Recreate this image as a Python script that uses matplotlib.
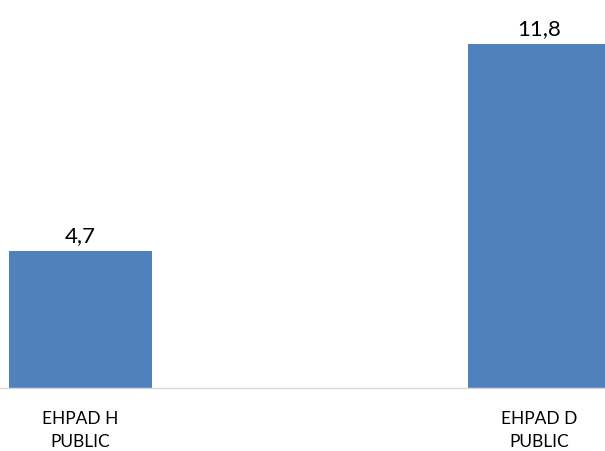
import numpy as np
import matplotlib
matplotlib.use("Agg")
import matplotlib.pyplot as plt

categories = ["EHPAD H\nPUBLIC", "EHPAD D\nPUBLIC"]
values = [4.7, 11.8]
value_labels = ["4,7", "11,8"]

plt.rcParams['font.family'] = ['Lato', 'DejaVu Sans']

fig = plt.figure(figsize=(6.05, 4.52), dpi=100)
ax = fig.add_axes([0, 63 / 452, 1, 389 / 452])

x = np.arange(len(categories))
bars = ax.bar(x, values, width=0.3115, color="#4f81bd", zorder=2)

for xi, v, lab in zip(x, values, value_labels):
    ax.text(xi, v + 0.22, lab, ha="center", va="bottom", fontsize=16, color="#000000")

ax.set_xlim(-0.1754, 1.1427)
ax.set_ylim(0, 13.35)
ax.set_xticks(x)
ax.set_xticklabels(categories, fontsize=12.5, linespacing=1.5)
ax.tick_params(axis="x", length=0, pad=16)
ax.set_yticks([])
for side in ["top", "left", "right"]:
    ax.spines[side].set_visible(False)
ax.spines["bottom"].set_color("#d9d9d9")
ax.spines["bottom"].set_linewidth(1)

fig.savefig("out.png", dpi=100)
